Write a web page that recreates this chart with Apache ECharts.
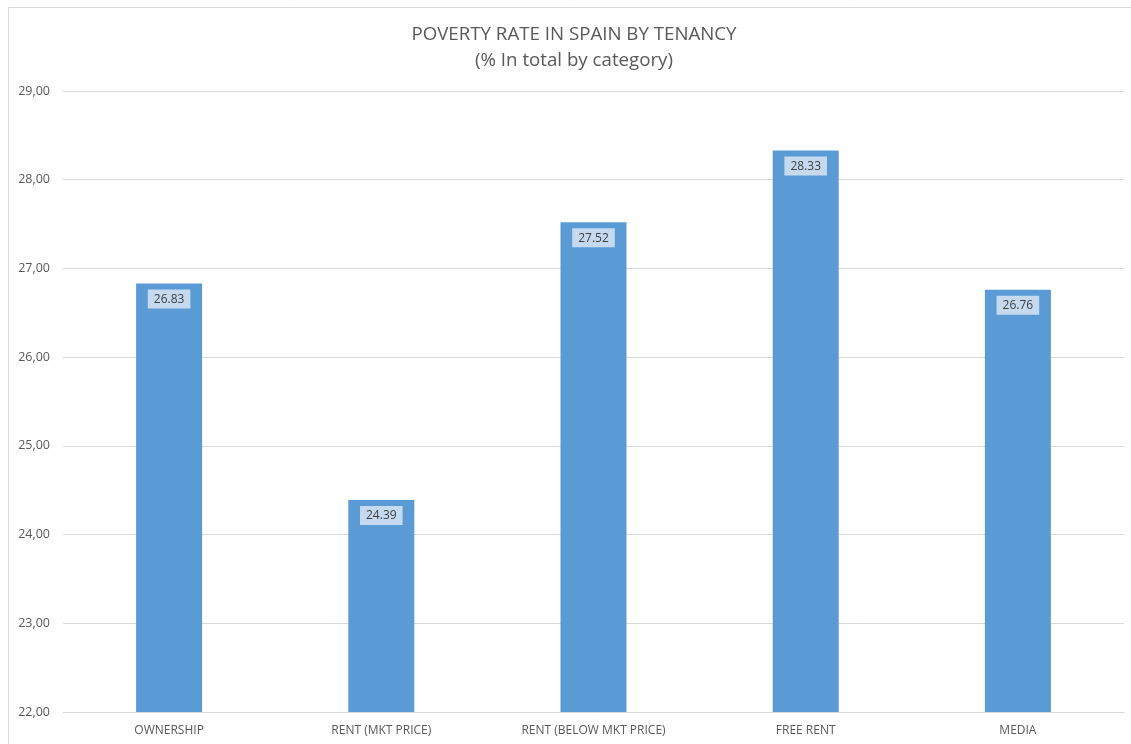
<!DOCTYPE html>
<html>
<head>
<meta charset="utf-8">
<script src="https://cdn.jsdelivr.net/npm/echarts@6/dist/echarts.min.js"></script>
<style>
  html, body { margin: 0; padding: 0; background: #fff; }
  #main { width: 1131px; height: 744px; }
</style>
</head>
<body>
<div id="main"></div>
<script>
var categories = ['OWNERSHIP', 'RENT (MKT PRICE)', 'RENT (BELOW MKT PRICE)', 'FREE RENT', 'MEDIA'];
var values = [26.83, 24.39, 27.52, 28.33, 26.76];
var yMin = 22, yMax = 29, yStep = 1;

var myChart = echarts.init(document.getElementById('main'));

var option = {
    backgroundColor: '#fff',
    graphic: [{
        type: 'rect',
        shape: { x: 8.5, y: 7.5, width: 1140, height: 760 },
        style: { fill: 'none', stroke: '#d9d9d9', lineWidth: 1 },
        silent: true
    }],
    title: {
        text: 'POVERTY RATE IN SPAIN BY TENANCY\n(% In total by category)',
        left: 569,
        top: 17,
        textAlign: 'center',
        textStyle: {
            fontFamily: 'Open Sans',
            fontWeight: 'normal',
            fontSize: 18.7,
            color: '#595959',
            lineHeight: 26
        }
    },
    grid: { left: 63, right: 7, top: 91, bottom: 32 },
    xAxis: {
        type: 'category',
        data: categories,
        axisLine: { lineStyle: { color: '#d9d9d9' } },
        axisTick: { show: false },
        axisLabel: {
            color: '#595959',
            fontFamily: 'Open Sans',
            fontSize: 12,
            margin: 13
        }
    },
    yAxis: {
        type: 'value',
        min: yMin,
        max: yMax,
        interval: yStep,
        axisLine: { show: false },
        axisTick: { show: false },
        splitLine: { lineStyle: { color: '#d9d9d9' } },
        axisLabel: {
            color: '#595959',
            fontFamily: 'Open Sans',
            fontSize: 12.5,
            margin: 13,
            formatter: function (v) { return v.toFixed(2).replace('.', ','); }
        }
    },
    series: [{
        type: 'bar',
        data: values,
        barWidth: 66,
        itemStyle: { color: '#5b9bd5' },
        label: {
            show: true,
            position: 'insideTop',
            distance: 6,
            formatter: function (p) { return p.value.toFixed(2); },
            color: '#404040',
            fontFamily: 'Open Sans',
            fontSize: 12,
            backgroundColor: '#c5daef',
            padding: [4, 6, 3, 6]
        }
    }]
};

myChart.setOption(option);
</script>
</body>
</html>
